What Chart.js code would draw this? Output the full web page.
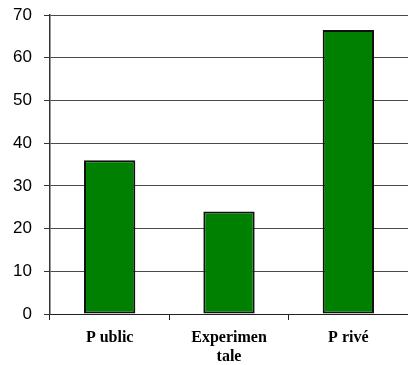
<!DOCTYPE html>
<html>
<head>
<meta charset="utf-8">
<script src="https://cdn.jsdelivr.net/npm/chart.js@4/dist/chart.umd.min.js"></script>
<style>
  html, body { margin: 0; padding: 0; background: #fff; }
  #wrap { width: 408px; height: 365px; }
</style>
</head>
<body>
<div id="wrap"><canvas id="c" width="408" height="365"></canvas></div>
<script>
// Category labels (second category wraps onto two lines)
const categories = ["P ublic", ["Experimen", "tale"], "P rivé"];
// Bar values per category
const values = [36, 24, 66.5];
// Y axis range and step
const yMin = 0;
const yMax = 70;
const yStep = 10;

new Chart(document.getElementById('c'), {
  type: 'bar',
  data: {
    labels: categories,
    datasets: [{
      data: values,
      backgroundColor: '#008000',
      borderColor: '#111111',
      borderWidth: 2,
      borderSkipped: false,
      categoryPercentage: 1,
      barPercentage: 0.43
    }]
  },
  options: {
    responsive: false,
    animation: false,
    layout: { padding: { top: 15, right: 0, left: 0, bottom: 0 } },
    plugins: { legend: { display: false }, tooltip: { enabled: false } },
    scales: {
      x: {
        grid: {
          offset: true,
          drawOnChartArea: false,
          drawTicks: true,
          tickLength: 6,
          color: '#222'
        },
        border: { display: true, color: '#222', width: 1 },
        ticks: {
          color: '#000',
          padding: 8,
          maxRotation: 0,
          autoSkip: false,
          font: { family: 'Liberation Serif', size: 16, weight: 'bold', lineHeight: 1.2 }
        },
        afterFit: s => { s.height = 51; s.paddingLeft = 0; s.paddingRight = 0; }
      },
      y: {
        min: yMin,
        max: yMax,
        grid: {
          color: '#4a4a4a',
          lineWidth: 1,
          drawTicks: true,
          tickLength: 6,
          tickColor: '#333'
        },
        border: { display: true, color: '#333', width: 1.5 },
        ticks: {
          stepSize: yStep,
          color: '#000',
          padding: 12,
          font: { family: 'Liberation Sans', size: 17 }
        },
        afterFit: s => { s.width = 50; s.paddingTop = 0; s.paddingBottom = 0; }
      }
    }
  }
});
</script>
</body>
</html>
